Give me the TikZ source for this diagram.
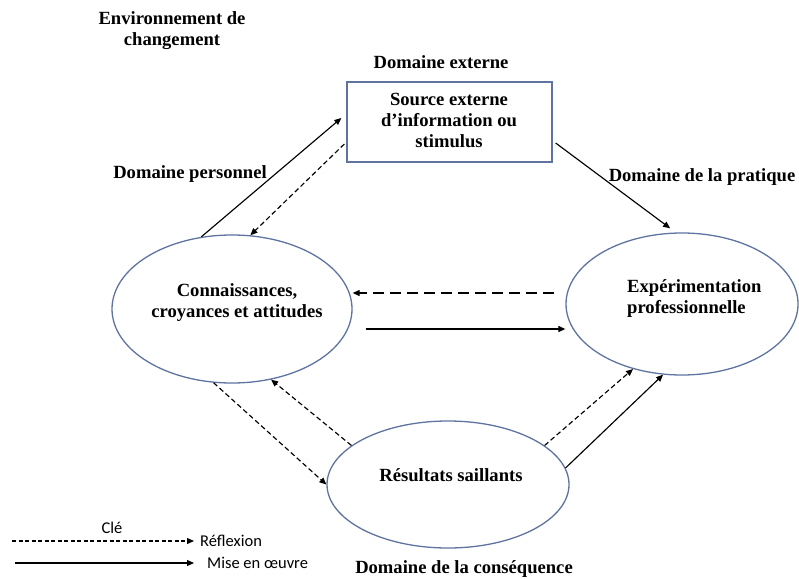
\documentclass[tikz,border=0pt]{standalone}
\usepackage{fontspec}
\setmainfont{Liberation Serif}
\newfontfamily\keyfont{Carlito}
\usetikzlibrary{arrows.meta,shapes.geometric}
\definecolor{edgeblue}{RGB}{95,115,160}
\begin{document}
\begin{tikzpicture}[x=1pt,y=-1pt,
  lbl/.style={font=\bfseries\fontsize{18.6}{21}\selectfont, align=center, inner sep=0pt},
  keylbl/.style={font=\keyfont\fontsize{16.5}{20}\selectfont, inner sep=0pt},
  oval/.style={ellipse, draw=edgeblue, line width=1.3pt, inner sep=0pt},
  srcbox/.style={rectangle, draw=edgeblue, line width=1.3pt, inner sep=0pt},
  tip/.style={-{Triangle[length=7pt,width=6pt]}},
  impl/.style={tip, line width=1.15pt},
  refl/.style={tip, line width=1.15pt, dash pattern=on 5pt off 3pt},
  reflwide/.style={tip, line width=1.15pt, dash pattern=on 11pt off 6pt},
  reflkey/.style={tip, line width=1.15pt, dash pattern=on 4pt off 2.5pt}]
\useasboundingbox (0,0) rectangle (799,578);

% main shapes
\node[oval, minimum width=240pt, minimum height=148pt] (L) at (232,309) {};
\node[oval, minimum width=232pt, minimum height=142pt] (E) at (682,304) {};
\node[oval, minimum width=242pt, minimum height=127pt] (R) at (448,484.5) {};
\node[srcbox, minimum width=205pt, minimum height=80pt] (S) at (449.5,122) {};

% texts inside the shapes
\node[lbl] (Ltxt) at (237,302.5) {Connaissances,\\croyances et attitudes};
\node[lbl, align=left, anchor=west] (Etxt) at (627,299) {Expérimentation\\professionnelle};
\node[lbl] (Rtxt) at (451,475) {Résultats saillants};
\node[lbl] (Stxt) at (449,120) {Source externe\\d’information ou\\stimulus};

% domain labels
\node[lbl] (env) at (172,31) {Environnement de\\changement};
\node[lbl] (dext) at (441,62) {Domaine externe};
\node[lbl] (dpers) at (190,174) {Domaine personnel};
\node[lbl] (dprat) at (702,177) {Domaine de la pratique};
\node[lbl] (dcons) at (464,569) {Domaine de la conséquence};

% connectors
\draw[impl] (L.113) -- ([shift={(-5pt,4pt)}]S.west);
\draw[refl] ([shift={(-2pt,-22pt)}]S.west) -- (L.76);
\draw[impl, shorten >=7pt] ([shift={(3pt,-21pt)}]S.east) -- (E.95);
\coordinate (h1) at ([yshift=16pt]L.east);
\coordinate (h2) at ([yshift=-20pt]L.east);
\draw[reflwide, shorten <=11pt] (h1 -| E.west) -- (h1);
\draw[impl, shorten <=13pt] (h2) -- (h2 -| E.west);
\draw[refl] (L.256) -- (R.180);
\draw[refl] (R.158) -- (L.299);
\draw[refl] (R.22) -- (E.233);
\draw[impl] (R.8) -- (E.255);

% key
\node[keylbl] (kcle) at (112,528) {Clé};
\node[keylbl, anchor=west] (krefl) at (200,541) {Réflexion};
\node[keylbl, anchor=west] (kmise) at (207,563) {Mise en œuvre};
\coordinate (k1) at (12,541);
\coordinate (k2) at (15,563);
\draw[reflkey, shorten >=6pt] (k1) -- (k1 -| krefl.west);
\draw[impl, shorten >=13pt] (k2) -- (k2 -| kmise.west);
\end{tikzpicture}
\end{document}
